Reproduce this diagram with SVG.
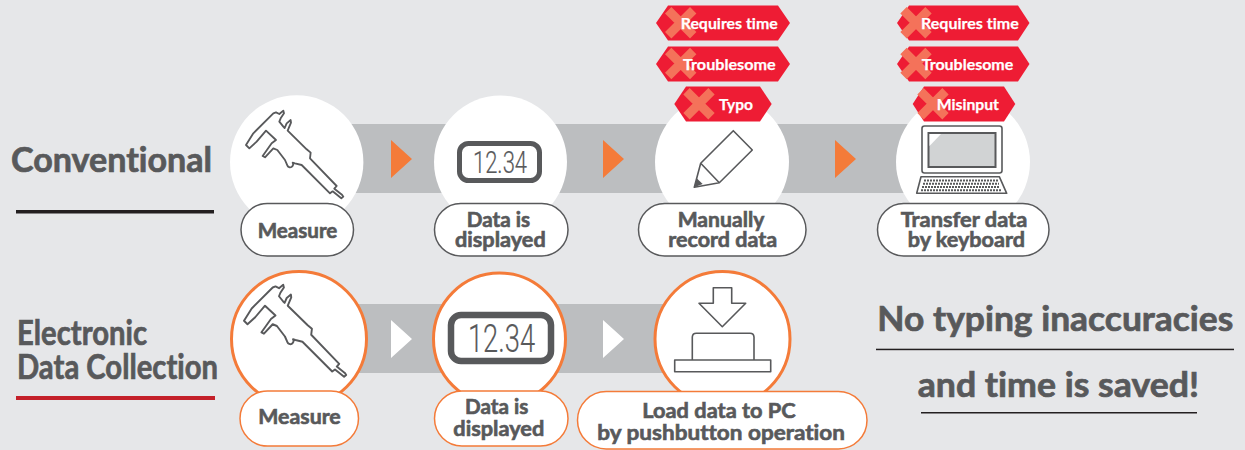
<svg xmlns="http://www.w3.org/2000/svg" width="1245" height="450" viewBox="0 0 1245 450">
<style>
text{font-family:"Lato","Open Sans","Liberation Sans",sans-serif;font-weight:700;fill:#58595b;stroke:#58595b;stroke-width:.5;font-variant-ligatures:none}
.head{font-size:34px;stroke-width:.7}
.big{font-size:34px;stroke-width:.7}
.pill{font-size:20px;stroke-width:.6}
.tag{font-size:15.5px;fill:#fff;stroke:#fff;stroke-width:.25}
.lcd{font-family:"Roboto","Liberation Sans",sans-serif;font-weight:300;stroke-width:.2}
.circ{fill:#fff}
.circo{fill:#fff;stroke:#f47b39;stroke-width:3}
.pb{fill:#fff;stroke:#58595b;stroke-width:1.5}
.po{fill:#fff;stroke:#f47b39;stroke-width:1.5}
.ic{fill:#fff;stroke:#58595b;stroke-width:1.6;stroke-linejoin:round}
.hex{fill:#ee1c34}
.x{stroke:#f4725a;stroke-width:9;fill:none}
</style>
<defs>
<path id="caliper" fill="#fff" stroke="#58595b" stroke-width="5.5" stroke-linejoin="round" d="M18 135L40 100L100 40L108 37L118 42L130 32L132 40L122 55L118 65L130 80L134 84L140 70L152 60L153 68L143 92L200 148L212 158L210 175L290 258L283 266L306 284L310 290L304 295L278 274L270 280L185 195L165 190L158 188A9 9 0 1 1 142 196L135 180L112 150L100 145L75 172L68 168L95 130L108 120L78 92L50 125L28 145Z"/>
<path id="xmark" class="x" d="M-12.5 -12.5L12.5 12.5M12.5 -12.5L-12.5 12.5"/>
</defs>
<rect width="1245" height="450" fill="#e6e7e9"/>

<g id="connectors">
<rect x="296" y="124" width="668" height="69" fill="#bcbec0"/>
<rect x="296" y="304" width="426" height="69" fill="#bcbec0"/>
<path d="M391 140L412 159L391 178Z M603 140L624 159L603 178Z M835 140L856 159L835 178Z" fill="#f47b39"/>
<path d="M391 320L412 339L391 358Z M603 320L624 339L603 358Z" fill="#fff"/>
</g>

<g id="label-conventional">
<text class="head" x="11" y="171.5" textLength="201" lengthAdjust="spacingAndGlyphs">Conventional</text>
<rect x="16" y="210" width="198" height="3.5" fill="#231f20"/>
</g>
<g id="label-electronic">
<text class="head" x="17" y="344.5" textLength="130" lengthAdjust="spacingAndGlyphs">Electronic</text>
<text class="head" x="17" y="379" textLength="201" lengthAdjust="spacingAndGlyphs">Data Collection</text>
<rect x="16" y="396" width="199" height="4" fill="#c4202a"/>
</g>

<g id="conv-measure">
<circle class="circ" cx="296.7" cy="162" r="66.7"/>
<use href="#caliper" transform="translate(240 100) scale(.3333)"/>
<rect class="pb" x="241" y="203.5" width="112.5" height="52.5" rx="26.2"/>
<text class="pill" x="257.7" y="237.5" textLength="79.6" lengthAdjust="spacingAndGlyphs">Measure</text>
</g>
<g id="conv-display">
<circle class="circ" cx="500.5" cy="162" r="66.5"/>
<rect x="459.5" y="143.5" width="80" height="37" rx="9" fill="#fff" stroke="#58595b" stroke-width="5"/>
<text class="lcd" x="473" y="173" font-size="31" textLength="54" lengthAdjust="spacingAndGlyphs">12.34</text>
<rect class="pb" x="434.5" y="203.5" width="133.5" height="52.5" rx="26.2"/>
<text class="pill" x="466.7" y="226.7" textLength="63.3" lengthAdjust="spacingAndGlyphs">Data is</text>
<text class="pill" x="455" y="247.3" textLength="90.7" lengthAdjust="spacingAndGlyphs">displayed</text>
</g>
<g id="conv-record">
<circle class="circ" cx="722" cy="162" r="67"/>
<path class="ic" d="M733.3 130.7L752.3 150L719.3 182.7L694.3 187.3L700.7 163.3ZM700.7 163.3L719.3 182.7"/>
<path d="M694.3 187.3L696.7 178.3L702.7 184Z" fill="#58595b"/>
<rect class="pb" x="638.5" y="203.5" width="167.5" height="52.5" rx="26.2"/>
<text class="pill" x="677.7" y="226.7" textLength="86.6" lengthAdjust="spacingAndGlyphs">Manually</text>
<text class="pill" x="668.3" y="247.3" textLength="109" lengthAdjust="spacingAndGlyphs">record data</text>
<polygon class="hex" points="668,5.5 778,5.5 790,23 778,40.5 668,40.5 656,23"/>
<use href="#xmark" transform="translate(680.7 22.7)"/>
<text class="tag" x="680.7" y="29.3" textLength="97" lengthAdjust="spacingAndGlyphs">Requires time</text>
<polygon class="hex" points="668,46.5 778,46.5 790,64 778,81.5 668,81.5 656,64"/>
<use href="#xmark" transform="translate(680.7 63.5)"/>
<text class="tag" x="683" y="69.5" textLength="92.7" lengthAdjust="spacingAndGlyphs">Troublesome</text>
<polygon class="hex" points="686,86.5 760,86.5 771.7,104 760,121.5 686,121.5 674.3,104"/>
<use href="#xmark" transform="translate(699 103.7)"/>
<text class="tag" x="719" y="109.5" textLength="34" lengthAdjust="spacingAndGlyphs">Typo</text>
</g>
<g id="conv-keyboard">
<circle class="circ" cx="963" cy="162" r="67"/>
<rect class="ic" x="922" y="126" width="80" height="47" rx="2.5"/>
<rect x="928.5" y="133" width="67" height="34" fill="#d1d3d4" stroke="#58595b" stroke-width="2"/>
<path d="M929.5 134H941L929.5 146Z" fill="#fff"/>
<path class="ic" d="M921 176.7H999.3L1006.7 193.3H916.7Z"/>
<path d="M924 180.5H998M923 183.8H999M922 187H1000M921 190.2H1001" stroke="#58595b" stroke-width="2" stroke-dasharray="2 1" fill="none"/>
<rect class="pb" x="877.5" y="203.5" width="171.5" height="52.5" rx="26.2"/>
<text class="pill" x="900.7" y="226.7" textLength="126.6" lengthAdjust="spacingAndGlyphs">Transfer data</text>
<text class="pill" x="907.7" y="247.3" textLength="117.3" lengthAdjust="spacingAndGlyphs">by keyboard</text>
<polygon class="hex" points="909,5.5 1018,5.5 1029.5,23 1018,40.5 909,40.5 897,23"/>
<use href="#xmark" transform="translate(916 22.7)"/>
<text class="tag" x="921" y="28.5" textLength="97.7" lengthAdjust="spacingAndGlyphs">Requires time</text>
<polygon class="hex" points="909,46.5 1018,46.5 1029.5,64 1018,81.5 909,81.5 897,64"/>
<use href="#xmark" transform="translate(916 63.5)"/>
<text class="tag" x="921.7" y="69.5" textLength="91.6" lengthAdjust="spacingAndGlyphs">Troublesome</text>
<polygon class="hex" points="924,86.5 1004,86.5 1015.3,104 1004,121.5 924,121.5 912.7,104"/>
<use href="#xmark" transform="translate(933 103.7)"/>
<text class="tag" x="936.7" y="110" textLength="62.3" lengthAdjust="spacingAndGlyphs">Misinput</text>
</g>

<g id="edc-measure">
<circle class="circo" cx="299" cy="339" r="67.5"/>
<use href="#caliper" transform="translate(237.7 273.5) scale(.35)"/>
<rect class="po" x="240" y="391" width="118.5" height="55" rx="27.5"/>
<text class="pill" x="258.3" y="424.3" textLength="82.4" lengthAdjust="spacingAndGlyphs">Measure</text>
</g>
<g id="edc-display">
<circle class="circo" cx="499.5" cy="339" r="66"/>
<rect x="451" y="315" width="100" height="46" rx="10" fill="#fff" stroke="#58595b" stroke-width="6.5"/>
<text class="lcd" x="468" y="352" font-size="38" textLength="67" lengthAdjust="spacingAndGlyphs">12.34</text>
<rect class="po" x="434.5" y="391" width="133.5" height="55" rx="27.5"/>
<text class="pill" x="465" y="414.3" textLength="63.3" lengthAdjust="spacingAndGlyphs">Data is</text>
<text class="pill" x="453.3" y="435.7" textLength="91" lengthAdjust="spacingAndGlyphs">displayed</text>
</g>
<g id="edc-load">
<circle class="circo" cx="722.5" cy="339" r="67.5"/>
<path class="ic" d="M713.3 287.7H731.7V303.3H745.7L722.3 326.7L699 303.3H713.3Z"/>
<path class="ic" d="M692.3 360V337A4 4 0 0 1 696.3 333.3H750A4 4 0 0 1 754 337V360"/>
<rect class="ic" x="674.7" y="360" width="96" height="11.7"/>
<rect class="po" x="577.5" y="391.5" width="289.5" height="57.5" rx="28.7"/>
<text class="pill" x="642.3" y="417.7" textLength="153.4" lengthAdjust="spacingAndGlyphs">Load data to PC</text>
<text class="pill" x="597.3" y="440" textLength="247.7" lengthAdjust="spacingAndGlyphs">by pushbutton operation</text>
</g>

<g id="result">
<text class="big" x="877.3" y="330.7" textLength="356" lengthAdjust="spacingAndGlyphs">No typing inaccuracies</text>
<rect x="876" y="348.7" width="358" height="1.5" fill="#231f20"/>
<text class="big" x="917.7" y="396.7" textLength="281.3" lengthAdjust="spacingAndGlyphs">and time is saved!</text>
<rect x="921" y="412" width="276" height="1.5" fill="#231f20"/>
</g>
</svg>
